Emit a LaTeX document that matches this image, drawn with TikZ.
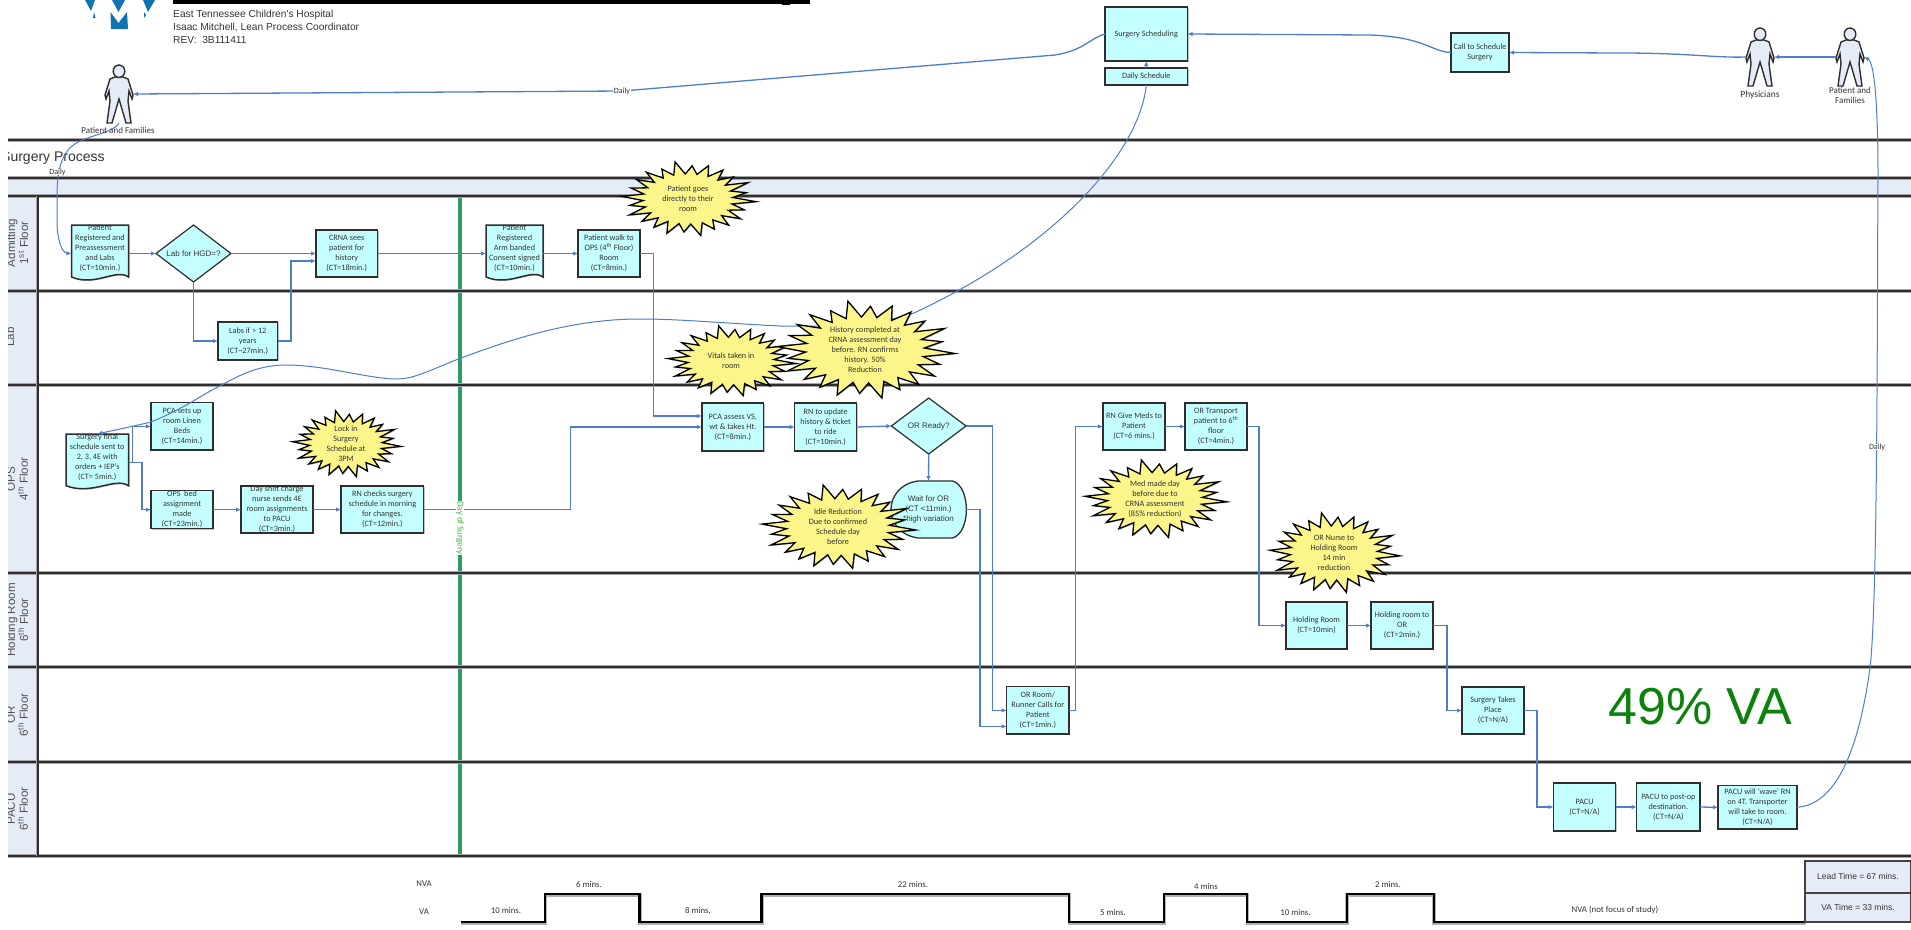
\documentclass[tikz,border=0pt]{standalone}
\usepackage{fontspec}
\setmainfont{Carlito}
\newfontfamily\arialf{Liberation Sans}
\usetikzlibrary{arrows.meta,shapes.geometric,shadows,calc}
\definecolor{boxfill}{HTML}{C4FFFF}
\definecolor{bandfill}{HTML}{E6ECF7}
\definecolor{connblue}{HTML}{4F7CCB}
\definecolor{burstfill}{HTML}{FBF58A}
\definecolor{greenline}{HTML}{2F9C63}
\definecolor{linedark}{HTML}{2E2E2E}
\definecolor{txt}{HTML}{333333}
\tikzset{
  declare function={burstr(\k)=ifthenelse(mod(\k,2)==0,1-0.13*abs(sin(\k*53)),0.66);},
  softshadow/.style={drop shadow={shadow xshift=1pt,shadow yshift=-1pt,opacity=.35,fill=black!70}},
  boxstyle/.style={draw=linedark,line width=1.5pt,fill=boxfill,inner sep=0pt,outer sep=0pt,align=center,font=\fontsize{8.2}{10}\selectfont,text=txt,softshadow},
  ghost/.style={inner sep=0pt,outer sep=0pt},
  doctext/.style={inner sep=0pt,align=center,font=\fontsize{8.2}{10}\selectfont,text=txt},
  docshape/.style={draw=linedark,line width=1.5pt,fill=boxfill,softshadow},
  diam/.style={diamond,draw=linedark,line width=1.2pt,fill=boxfill,inner sep=0pt,outer sep=0pt,aspect=1.3,font=\arialf\fontsize{8}{10}\selectfont,text=txt},
  conn/.style={draw=connblue,line width=1.3pt,-{Latex[length=5pt,width=4.5pt]}},
  thinconn/.style={draw=connblue,line width=1pt,-{Latex[length=5pt,width=4.5pt]}},
  burstline/.style={draw=black,line width=1.3pt,fill=burstfill,miter limit=10,softshadow},
  bursttext/.style={inner sep=0pt,align=center,font=\fontsize{8.2}{10}\selectfont,text=txt},
  lane/.style={draw=linedark,line width=2pt},
  laneglow/.style={draw=black!35,line width=3.4pt},
  lanelabel/.style={inner sep=0pt,align=center,rotate=90,font=\arialf\fontsize{11.6}{13}\selectfont,text=txt!85},
  actorline/.style={draw=linedark,line width=1.4pt,fill=bandfill},
  small/.style={inner sep=0pt,align=center,font=\fontsize{8.8}{10}\selectfont,text=txt},
  timeline/.style={draw=black,line width=2.4pt,line join=miter},
  totalbox/.style={draw=linedark!90,line width=1.6pt,fill=bandfill,inner sep=0pt,outer sep=0pt,font=\arialf\fontsize{8.5}{10}\selectfont,text=txt},
  hdr/.style={inner sep=0pt,anchor=west,font=\arialf\fontsize{10.2}{12}\selectfont,text=txt},
}
\newcommand{\bx}[6]{\node[boxstyle,minimum width={(#4-#2)*1pt},minimum height={(#5-#3)*1pt}] (#1) at ({(#2+#4)/2},{(#3+#5)/2}) {#6};}
\newcommand{\docbox}[6]{%
  \draw[docshape] (#2,#3) -- (#4,#3) -- (#4,#5-5) .. controls ({#2+0.78*(#4-#2)},#5-14) and ({#2+0.42*(#4-#2)},#5+5) .. (#2,#5-5) -- cycle;
  \node[ghost,minimum width={(#4-#2)*1pt},minimum height={(#5-#3)*1pt}] (#1) at ({(#2+#4)/2},{(#3+#5)/2}) {};
  \node[doctext] (#1T) at ([yshift=5.5pt]#1.center) {#6};}
\newcommand{\burst}[6]{%
  \draw[burstline,shift={(#2,#3)},xscale=#4,yscale=#5] plot[variable=\k,samples at={0,1,...,47}] ({burstr(\k)*cos(7.5*\k+4)},{burstr(\k)*sin(7.5*\k+4)}) -- cycle;
  \node[bursttext] (#1) at (#2,#3) {#6};}
\newcommand{\actor}[3]{% name, cx, top
  \begin{scope}[shift={(#2,#3)}]
  \draw[actorline] (-4,12) -- (-9,14) -- (-14,30) -- (-13,34) -- (-10,26) -- (-9,36) -- (-12,58) -- (-7,58) -- (0,34) -- (7,58) -- (12,58) -- (9,36) -- (10,26) -- (13,34) -- (14,30) -- (9,14) -- (4,12) -- cycle;
  \draw[actorline] (0,6.2) ellipse [x radius=5.8,y radius=6.2];
  \end{scope}
  \node[ghost,minimum width=28pt,minimum height=58pt] (#1) at (#2,#3+29) {};}
\begin{document}
\begin{tikzpicture}[x=1pt,y=-1pt]
\useasboundingbox (0,0) rectangle (1911,929);
% bands
\fill[bandfill] (8,178) rectangle (1911,196);
\fill[bandfill] (8,196) rectangle (37.5,856);
% green day-of-surgery line
\draw[draw=greenline,line width=3.4pt] (460,196) -- (460,856);
\foreach \yy in {140,178,196,291,385,573,667,762,856} {\draw[laneglow] (8,\yy) -- (1911,\yy); \draw[lane] (8,\yy) -- (1911,\yy);}
\draw[laneglow] (37.5,196) -- (37.5,856);
\draw[lane] (37.5,196) -- (37.5,856);
% lane labels
\begin{scope}
\clip (8,140) rectangle (300,860);
\node[inner sep=0pt,anchor=west,font=\arialf\fontsize{14}{16}\selectfont,text=txt] (ttl) at (1,158.5) {Surgery Process};
\node[lanelabel] (l1) at (17.5,243) {Admitting\\1\textsuperscript{st} Floor};
\node[lanelabel] (l2) at (10,337) {Lab};
\node[lanelabel] (l3) at (17.5,479) {OPS\\4\textsuperscript{th} Floor};
\node[lanelabel] (l4) at (17.5,620) {Holding Room\\6\textsuperscript{th} Floor};
\node[lanelabel] (l5) at (17.5,715) {OR\\6\textsuperscript{th} Floor};
\node[lanelabel] (l6) at (17.5,809) {PACU\\6\textsuperscript{th} Floor};
\end{scope}
% header
\fill[black] (173,0) rectangle (810,3.6);
\fill[black] (782,0) rectangle (790,4.6);
\fill[black] (260,0) rectangle (280,4.4);
\fill[black] (420,0) rectangle (436,4.4);
\definecolor{logoblue}{HTML}{1073B2}
\fill[logoblue] (85,0) -- (95,0) -- (91,11) -- cycle;
\fill[logoblue] (112,0) -- (125,0) -- (118.5,12) -- cycle;
\fill[logoblue] (143,0) -- (155,0) -- (148,12) -- cycle;
\fill[logoblue] (94,12) -- (95.5,18) -- (93,18) -- cycle;
\fill[logoblue] (144,12) -- (146,15) -- (144,18) -- cycle;
\fill[logoblue] (110.5,12) -- (118.5,23) -- (127,12) -- (128,29) -- (111,29) -- cycle;
\node[hdr] (h1) at (173,15) {East Tennessee Children's Hospital};
\node[hdr] (h2) at (173,27.5) {Isaac Mitchell, Lean Process Coordinator};
\node[hdr] (h3) at (173,40) {REV:\ \ 3B111411};
% actors
\actor{pl}{119}{65}
\actor{phys}{1760}{28}
\actor{pr}{1850}{28}
% placeholders for curve ends
\coordinate (dA) at (622,91);
\coordinate (dB) at (1877,447);
% nodes
\bx{sched}{1105}{7}{1187.5}{61}{Surgery Scheduling}
\bx{dsch}{1105}{68}{1187.5}{85}{Daily Schedule}
\bx{call}{1451}{33}{1509}{72}{Call to Schedule\\Surgery}
\docbox{reg}{71.5}{225}{128.5}{282}{Patient\\Registered and\\Preassessment\\and Labs\\(CT=10min.)}
\node[diam,minimum width=75pt,minimum height=57pt] (lab) at (193.5,253.5) {Lab for HGD=?};
\bx{crna}{316}{230}{377.5}{277}{CRNA sees\\patient for\\history\\(CT=18min.)}
\bx{labs}{218}{322}{277.5}{360}{Labs if > 12\\years\\(CT\textasciitilde 27min.)}
\docbox{reg2}{486}{225}{543}{282}{Patient\\Registered\\Arm banded\\Consent signed\\(CT=10min.)}
\bx{walk}{578}{230}{640}{277}{Patient  walk to\\OPS (4\textsuperscript{th} Floor)\\Room\\(CT=8min.)}
\docbox{final}{66}{434}{128.5}{490.7}{Surgery final\\schedule sent to\\2, 3, 4E with\\orders + IEP's\\(CT= 5min.)}
\bx{pcas}{151}{402.7}{213}{450}{PCA sets up\\room Linen\\Beds\\(CT=14min.)}
\bx{opsb}{151}{490.7}{213}{528.7}{OPS\ \ bed\\assignment\\made\\(CT=23min.)}
\bx{day}{241}{486}{313}{533}{Day shift charge\\nurse sends 4E\\room assignments\\to PACU\\(CT=3min.)}
\bx{rnc}{341}{486}{423.7}{533}{RN checks surgery\\schedule in morning\\for changes.\\(CT=12min.)}
\bx{pcaa}{702}{403}{763.7}{451}{PCA assess VS,\\wt \& takes Ht.\\(CT=8min.)}
\bx{rnu}{794.7}{403}{856.7}{451}{RN to update\\history \& ticket\\to ride\\(CT=10min.)}
\node[diam,minimum width=74.6pt,minimum height=56pt] (ready) at (928.7,426) {OR Ready?};
\draw[draw=linedark,line width=1.3pt,fill=boxfill] (918,481) -- (952.5,481) .. controls (971,486) and (971,533) .. (952.5,538) -- (918,538) .. controls (882,533) and (882,486) .. (918,481) -- cycle;
\node[ghost,minimum width=75pt,minimum height=57pt] (wait) at (928.5,509.5) {};
\bx{orr}{1006.7}{686.7}{1069}{734}{OR Room/\\Runner Calls for\\Patient\\(CT=1min.)}
\bx{meds}{1103}{403}{1165}{450}{RN Give Meds to\\Patient\\(CT=6 mins.)}
\bx{trans}{1185}{403}{1247}{450}{OR Transport\\patient to 6\textsuperscript{th}\\floor\\(CT=4min.)}
\bx{hold}{1286}{602}{1347}{649}{Holding Room\\(CT=10min)}
\bx{hold2}{1371}{602}{1433}{649}{Holding room to\\OR\\(CT=2min.)}
\bx{surg}{1462}{687}{1524}{734}{Surgery Takes\\Place\\(CT=N/A)}
\bx{pacu}{1553.5}{783}{1615.7}{831}{PACU\\(CT=N/A)}
\bx{post}{1636.7}{783}{1700}{831}{PACU to post-op\\destination.\\(CT=N/A)}
\bx{wave}{1718}{785.7}{1797}{829}{PACU will `wave' RN\\on 4T. Transporter\\will take to room.\\(CT=N/A)}
% connectors
\draw[conn] (reg.east) -- (lab.west);
\draw[conn] (lab.east) -- (crna.west);
\draw[conn] (lab.south) |- (labs.west);
\draw[conn] (labs.east) -- ++(13.5,0) |- ([yshift=-7.5pt]crna.west);
\draw[conn] (crna.east) -- (reg2.west);
\draw[conn] (reg2.east) -- (walk.west);
\draw[conn] (walk.east) -- ++(13.5,0) |- ([yshift=11pt]pcaa.west);
\draw[conn] (final.east) -- ++(13.5,0) |- (opsb.west);
\draw[conn] (final.east) ++(4.2,0) |- (pcas.west);
\draw[conn] (opsb.east) -- (opsb.east -| day.west);
\draw[conn] (day.east) -- (day.east -| rnc.west);
\draw[conn] (rnc.east) -- ++(147,0) |- (pcaa.west);
\draw[conn] (pcaa.east) -- (rnu.west);
\draw[conn] (rnu.east) -- (ready.west);
\draw[conn] (ready.south) -- (wait.north);
\draw[conn] (ready.east) -- ++(26.7,0) |- (orr.west);
\draw[conn] (wait.east) -- ++(14,0) |- ([yshift=-16pt]orr.west);
\draw[conn] (orr.east) -- ++(6.5,0) |- (meds.west);
\draw[conn] (meds.east) -- (trans.west);
\draw[conn] (trans.east) -- ++(12,0) |- (hold.west);
\draw[conn] (hold.east) -- (hold2.west);
\draw[conn] (hold2.east) -- ++(14,0) |- (surg.west);
\draw[conn] (surg.east) -- ++(13,0) |- (pacu.west);
\draw[conn] (pacu.east) -- (post.west);
\draw[conn] (post.east) -- (wave.west);
\draw[conn] (dsch.north) -- (sched.south);
\draw[conn] (call.west) .. controls (1432,52) and (1425,37) .. (1370,35) -- (sched.east);
\draw[conn] (phys.west) .. controls (1715,58) and (1690,53) .. (1620,53) -- (call.east);
\draw[conn] (pr.west) -- (phys.east);
\draw[conn] (sched.west) .. controls (1090,38) and (1085,50) .. (1055,55) -- (dA) -- (pl.east);
\draw[thinconn] (pl.south) .. controls (112,135) and (80,135) .. (68,150) .. controls (60,160) and (57,175) .. (57,195) -- (57,220) .. controls (57,240) and (62,253) .. (reg.west);
\draw[thinconn] (wave.east) .. controls (1840,804) and (1860,740) .. (1870,668) .. controls (1878,600) and (1877,300) .. (1878,178) .. controls (1878,100) and (1874,62) .. (pr.east);
\draw[thinconn] (dsch.south) .. controls (1140,150) and (1060,245) .. (914,313) .. controls (880,325) and (830,327) .. (780,326) .. controls (720,323) and (680,319) .. (640,319) .. controls (570,319) and (510,340) .. (461,358) .. controls (430,370) and (415,379) .. (396,379) .. controls (370,379) and (325,365) .. (286,365) .. controls (255,365) and (235,378) .. (216,388) .. controls (200,396) and (185,408) .. (151,422) .. controls (130,427) and (115,430) .. (final.north);
% labels on connectors
\node[small,fill=white,inner xsep=1pt,font=\fontsize{8}{10}\selectfont] (d1) at (dA) {Daily};
\node[small,fill=white,inner xsep=1pt,font=\fontsize{8}{10}\selectfont] (d2) at (57.5,172) {Daily};
\node[small,fill=white,inner xsep=1pt,font=\fontsize{8}{10}\selectfont] (d3) at (dB) {Daily};
\node[inner sep=0.5pt,fill=white,rotate=-90,text=green!60!black!75,font=\fontsize{9}{10}\selectfont] (dos) at (460,528) {Day of Surgery};
% bursts
\burst{b1}{688}{199}{68}{38}{Patient goes\\directly to their\\room}
\burst{b2}{731}{361}{65}{36}{Vitals taken in\\room}
\burst{b3}{865}{350}{90}{50}{History completed at\\CRNA assessment day\\before. RN confirms\\history. 50\%\\Reduction}
\burst{b4}{346}{444}{55}{34}{Lock in\\Surgery\\Schedule at\\3PM}
\burst{b5}{838}{527}{78}{43}{Idle Reduction\\Due to confirmed\\Schedule day\\before}
\burst{b6}{1155}{499}{72}{40}{Med made day\\before due to\\CRNA assessment\\(85\% reduction)}
\burst{b7}{1334}{553}{66}{41}{OR Nurse to\\Holding Room\\14 min\\reduction}
\node[inner sep=0pt,align=center,font=\arialf\fontsize{8}{10}\selectfont,text=txt] (waitT) at (wait.center) {Wait for OR\\(CT <11min.)\\*high variation};
% actor labels
\node[small,font=\fontsize{9}{10}\selectfont] (plT) at (118,130) {Patient and Families};
\node[small,font=\fontsize{9.5}{10}\selectfont] (physT) at (1760,95) {Physicians};
\node[small,font=\fontsize{9}{10}\selectfont] (prT) at (1850,95) {Patient and\\Families};
% big figure
\node[inner sep=0pt,text={rgb,255:red,11;green,131;blue,11},font=\arialf\fontsize{52}{52}\selectfont] (va) at (1700.5,707) {49\% VA};
% timeline
\draw[timeline,draw=black!30,line width=3.6pt,shift={(0.5,1)}] (460.7,921.7) -- (545,921.7) -- (545,894) -- (639.6,894) -- (639.6,921.7) -- (761.6,921.7) -- (761.6,894) -- (1069,894) -- (1069,921.7) -- (1164,921.7) -- (1164,894) -- (1247,894) -- (1247,921.7) -- (1346.7,921.7) -- (1346.7,894) -- (1433.7,894) -- (1433.7,921.7) -- (1805,921.7);
\draw[timeline] (460.7,921.7) -- (545,921.7) -- (545,894) -- (639.6,894) -- (639.6,921.7) -- (761.6,921.7) -- (761.6,894) -- (1069,894) -- (1069,921.7) -- (1164,921.7) -- (1164,894) -- (1247,894) -- (1247,921.7) -- (1346.7,921.7) -- (1346.7,894) -- (1433.7,894) -- (1433.7,921.7) -- (1805,921.7);
\node[small] (t1) at (424,884) {NVA};
\node[small] (t2) at (424,912) {VA};
\node[small] (t3) at (506,910) {10 mins.};
\node[small] (t4) at (589,884) {6 mins.};
\node[small] (t5) at (698,910) {8 mins.};
\node[small] (t6) at (913,884) {22 mins.};
\node[small] (t7) at (1113,912) {5 mins.};
\node[small] (t8) at (1206,886) {4 mins};
\node[small] (t9) at (1295.5,912) {10 mins.};
\node[small] (t10) at (1388,884) {2 mins.};
\node[small] (t11) at (1615,910) {NVA (not focus of study)};
\node[totalbox,minimum width=106pt,minimum height=32.3pt] (lead) at (1858,876.9) {Lead Time = 67 mins.};
\node[totalbox,minimum width=106pt,minimum height=29pt] (vat) at (1858,907.5) {VA Time = 33 mins.};
\end{tikzpicture}
\end{document}
